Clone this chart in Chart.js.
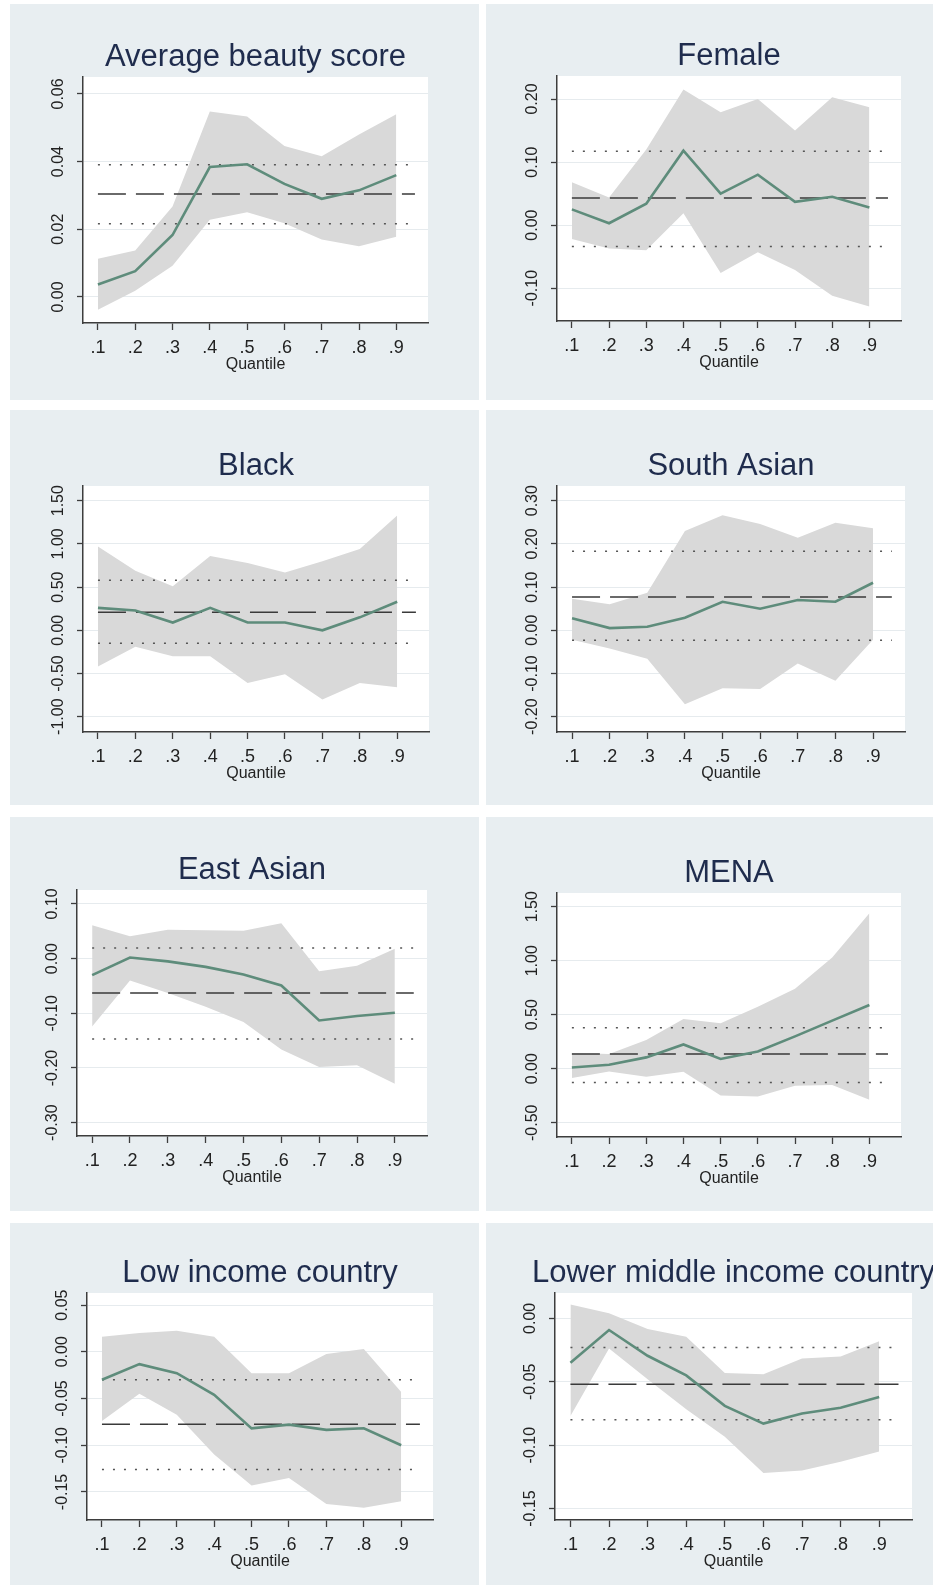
<!DOCTYPE html>
<html lang="en">
<head>
<meta charset="utf-8">
<title>Quantile regression estimates</title>
<script src="https://cdn.jsdelivr.net/npm/chart.js@4.4.1/dist/chart.umd.min.js"></script>
<style>
  html, body { margin: 0; padding: 0; background: #ffffff; }
  body { position: relative; width: 933px; height: 1585px; overflow: hidden; }
  .painel { position: absolute; background: #e8eef1; overflow: hidden; }
  .painel canvas { position: absolute; left: 0; top: 0; }
</style>
</head>
<body>
<script>
//Quantis estimados (eixo x) e extensão das linhas de referência
const quantis = [0.1, 0.2, 0.3, 0.4, 0.5, 0.6, 0.7, 0.8, 0.9];
const extensaoRef = [0.1, 0.95];

//Average beauty score
const belezaEst = [0.0037, 0.0076, 0.0183, 0.0384, 0.0392, 0.0334, 0.029, 0.0315, 0.036];
const belezaSup = [0.0113, 0.0137, 0.0267, 0.0548, 0.0533, 0.0446, 0.0416, 0.048, 0.054];
const belezaInf = [-0.0038, 0.0018, 0.0092, 0.0228, 0.025, 0.0218, 0.017, 0.015, 0.0178];
const belezaMqo = [0.0304, 0.0391, 0.0216];
const belezaTicks = [0, 0.02, 0.04, 0.06];

//Female
const femEst = [0.025, 0.003, 0.034, 0.118, 0.05, 0.08, 0.037, 0.045, 0.028];
const femSup = [0.068, 0.044, 0.12, 0.215, 0.179, 0.2, 0.15, 0.203, 0.187];
const femInf = [-0.022, -0.037, -0.04, 0.019, -0.076, -0.043, -0.071, -0.112, -0.129];
const femMqo = [0.043, 0.117, -0.034];
const femTicks = [-0.1, 0, 0.1, 0.2];

//Black
const negroEst = [0.26, 0.23, 0.09, 0.26, 0.09, 0.09, 0.0, 0.15, 0.33];
const negroSup = [0.97, 0.69, 0.51, 0.86, 0.78, 0.67, 0.8, 0.94, 1.33];
const negroInf = [-0.42, -0.19, -0.3, -0.3, -0.61, -0.51, -0.8, -0.61, -0.66];
const negroMqo = [0.21, 0.58, -0.15];
const negroTicks = [-1, -0.5, 0, 0.5, 1, 1.5];

//South Asian
const sulEst = [0.028, 0.005, 0.008, 0.029, 0.066, 0.05, 0.07, 0.066, 0.11];
const sulSup = [0.073, 0.06, 0.087, 0.23, 0.266, 0.246, 0.214, 0.249, 0.236];
const sulInf = [-0.022, -0.042, -0.066, -0.171, -0.134, -0.136, -0.077, -0.117, -0.022];
const sulMqo = [0.077, 0.183, -0.023];
const sulTicks = [-0.2, -0.1, 0, 0.1, 0.2, 0.3];

//East Asian
const lesteEst = [-0.03, 0.002, -0.005, -0.015, -0.029, -0.049, -0.113, -0.105, -0.099];
const lesteSup = [0.061, 0.041, 0.053, 0.052, 0.051, 0.065, -0.023, -0.013, 0.018];
const lesteInf = [-0.124, -0.04, -0.063, -0.088, -0.116, -0.166, -0.198, -0.195, -0.229];
const lesteMqo = [-0.063, 0.0195, -0.147];
const lesteTicks = [-0.3, -0.2, -0.1, 0, 0.1];

//MENA
const menaEst = [0.012, 0.037, 0.105, 0.225, 0.09, 0.16, 0.3, 0.445, 0.59];
const menaSup = [0.145, 0.136, 0.265, 0.46, 0.42, 0.574, 0.74, 1.03, 1.44];
const menaInf = [-0.086, -0.025, -0.074, -0.028, -0.247, -0.256, -0.157, -0.151, -0.287];
const menaMqo = [0.136, 0.38, -0.127];
const menaTicks = [-0.5, 0, 0.5, 1, 1.5];

//Low income country
const baixaEst = [-0.03, -0.0132, -0.0229, -0.046, -0.082, -0.078, -0.0836, -0.0818, -0.1];
const baixaSup = [0.016, 0.02, 0.0225, 0.016, -0.0229, -0.0229, -0.0025, 0.003, -0.043];
const baixaInf = [-0.074, -0.045, -0.0675, -0.11, -0.143, -0.135, -0.163, -0.167, -0.16];
const baixaMqo = [-0.0775, -0.03, -0.126];
const baixaTicks = [-0.15, -0.1, -0.05, 0, 0.05];

//Lower middle income country
const mediaEst = [-0.035, -0.0092, -0.0295, -0.045, -0.069, -0.083, -0.075, -0.0705, -0.062];
const mediaSup = [0.011, 0.004, -0.0084, -0.0145, -0.043, -0.044, -0.0316, -0.03, -0.018];
const mediaInf = [-0.077, -0.0237, -0.048, -0.0716, -0.0934, -0.122, -0.12, -0.113, -0.105];
const mediaMqo = [-0.052, -0.023, -0.08];
const mediaTicks = [-0.15, -0.1, -0.05, 0];

//Painéis: título, séries e faixa do eixo y
const paineis = [
    {titulo: 'Average beauty score', est: belezaEst, sup: belezaSup, inf: belezaInf, mqo: belezaMqo, ticks: belezaTicks, eixo: [-0.0077, 0.065]},
    {titulo: 'Female', est: femEst, sup: femSup, inf: femInf, mqo: femMqo, ticks: femTicks, eixo: [-0.152, 0.2365]},
    {titulo: 'Black', est: negroEst, sup: negroSup, inf: negroInf, mqo: negroMqo, ticks: negroTicks, eixo: [-1.177, 1.67]},
    {titulo: 'South Asian', est: sulEst, sup: sulSup, inf: sulInf, mqo: sulMqo, ticks: sulTicks, eixo: [-0.2355, 0.334]},
    {titulo: 'East Asian', est: lesteEst, sup: lesteSup, inf: lesteInf, mqo: lesteMqo, ticks: lesteTicks, eixo: [-0.3244, 0.1256]},
    {titulo: 'MENA', est: menaEst, sup: menaSup, inf: menaInf, mqo: menaMqo, ticks: menaTicks, eixo: [-0.632, 1.627]},
    {titulo: 'Low income country', est: baixaEst, sup: baixaSup, inf: baixaInf, mqo: baixaMqo, ticks: baixaTicks, eixo: [-0.18, 0.0629]},
    {titulo: 'Lower middle income country', est: mediaEst, sup: mediaSup, inf: mediaInf, mqo: mediaMqo, ticks: mediaTicks, eixo: [-0.159, 0.02]}
];

//Posição de cada painel na página e da área de plotagem (esq, topo, dir, base)
const caixas = [
    {x: 10, y: 4, w: 469, h: 396, area: [83, 77, 428, 323]},
    {x: 486, y: 4, w: 447, h: 396, area: [557, 76, 901, 321]},
    {x: 10, y: 410, w: 469, h: 395, area: [83, 486, 429, 732]},
    {x: 486, y: 410, w: 447, h: 395, area: [557, 486, 905, 732]},
    {x: 10, y: 817, w: 469, h: 394, area: [77, 890, 427, 1136]},
    {x: 486, y: 817, w: 447, h: 394, area: [557, 893, 901, 1137]},
    {x: 10, y: 1223, w: 469, h: 362, area: [87, 1293, 433, 1520]},
    {x: 486, y: 1223, w: 447, h: 362, area: [555, 1293, 912, 1520]}
];

//Cores
const corLinha = '#5e8c7b';
const corBanda = '#d9d9d9';
const corEixo = '#3d3d3d';
const corGrade = '#e6ebee';
const corTexto = '#222222';
const corTitulo = '#1f2c4d';
const fonte = '"Liberation Sans", Arial, sans-serif';

Chart.defaults.font.family = fonte;

//Fundo branco da área de plotagem
const fundoBranco = {
    id: 'fundoBranco',
    beforeDraw(chart) {
        const a = chart.chartArea;
        chart.ctx.save();
        chart.ctx.fillStyle = '#ffffff';
        chart.ctx.fillRect(a.left, a.top, a.right - a.left, a.bottom - a.top);
        chart.ctx.restore();
    }
};

//Rótulos do eixo y girados 90 graus
const rotulosY = {
    id: 'rotulosY',
    afterDraw(chart) {
        const s = chart.scales.y;
        const ctx = chart.ctx;
        ctx.save();
        ctx.font = '16px ' + fonte;
        ctx.fillStyle = corTexto;
        ctx.textAlign = 'center';
        ctx.textBaseline = 'middle';
        s.ticks.forEach(t => {
            ctx.save();
            ctx.translate(chart.chartArea.left - 24, s.getPixelForValue(t.value));
            ctx.rotate(-Math.PI / 2);
            ctx.fillText(t.label, 0, 0);
            ctx.restore();
        });
        ctx.restore();
    }
};

//Título centrado sobre a área de plotagem
const tituloPainel = {
    id: 'tituloPainel',
    afterDraw(chart, args, opts) {
        const a = chart.chartArea;
        const ctx = chart.ctx;
        ctx.save();
        ctx.font = '31px ' + fonte;
        ctx.fillStyle = corTitulo;
        ctx.textAlign = 'center';
        ctx.textBaseline = 'alphabetic';
        ctx.fillText(opts.text, (a.left + a.right) / 2, a.top - 11);
        ctx.restore();
    }
};

function criarPainel(p, c) {
    let div = document.createElement('div');
    div.className = 'painel';
    div.style.left = c.x + 'px';
    div.style.top = c.y + 'px';
    div.style.width = c.w + 'px';
    div.style.height = c.h + 'px';
    let canvas = document.createElement('canvas');
    canvas.width = c.w;
    canvas.height = c.h;
    div.appendChild(canvas);
    document.body.appendChild(div);

    //Área de plotagem em coordenadas do canvas
    let esq = c.area[0] - c.x;
    let topo = c.area[1] - c.y;
    let dir = c.area[2] - c.x;
    let base = c.area[3] - c.y;
    let alturaX = 60;

    let pontos = vals => quantis.map((q, i) => ({x: q, y: vals[i]}));
    let horizontal = v => extensaoRef.map(x => ({x: x, y: v}));
    let semBorda = 'rgba(0,0,0,0)';

    new Chart(canvas, {
        type: 'line',
        data: {
            datasets: [
                {data: pontos(p.sup), borderColor: semBorda, borderWidth: 1, pointRadius: 0, fill: false, order: 3},
                {data: pontos(p.inf), borderColor: semBorda, borderWidth: 1, pointRadius: 0, fill: '-1', backgroundColor: corBanda, order: 3},
                {data: horizontal(p.mqo[1]), borderColor: '#555555', borderWidth: 1.5, borderDash: [2, 9], pointRadius: 0, order: 2},
                {data: horizontal(p.mqo[2]), borderColor: '#555555', borderWidth: 1.5, borderDash: [2, 9], pointRadius: 0, order: 2},
                {data: horizontal(p.mqo[0]), borderColor: '#3a3a3a', borderWidth: 1.5, borderDash: [28, 10], pointRadius: 0, order: 1},
                {data: pontos(p.est), borderColor: corLinha, borderWidth: 2.6, pointRadius: 0, order: 0}
            ]
        },
        options: {
            responsive: false,
            animation: false,
            events: [],
            layout: {padding: {left: 0, top: topo, right: c.w - dir, bottom: c.h - base - alturaX}},
            plugins: {
                legend: {display: false},
                tooltip: {enabled: false},
                tituloPainel: {text: p.titulo}
            },
            scales: {
                x: {
                    type: 'linear',
                    min: 0.06,
                    max: 0.985,
                    afterFit: s => { s.height = alturaX; },
                    afterBuildTicks: s => { s.ticks = quantis.map(v => ({value: v})); },
                    grid: {drawOnChartArea: false, drawTicks: true, tickLength: 7, tickColor: corEixo, tickWidth: 1.3},
                    border: {display: true, color: corEixo, width: 1.5},
                    ticks: {padding: 7, autoSkip: false, maxRotation: 0, font: {size: 18}, color: corTexto,
                        callback: v => String(v).replace(/^0/, '')},
                    title: {display: true, text: 'Quantile', font: {size: 16}, color: corTexto, padding: {top: 0, bottom: 9}}
                },
                y: {
                    type: 'linear',
                    min: p.eixo[0],
                    max: p.eixo[1],
                    afterFit: s => { s.width = esq; },
                    afterBuildTicks: s => { s.ticks = p.ticks.map(v => ({value: v})); },
                    grid: {color: corGrade, lineWidth: 1, drawTicks: true, tickLength: 6, tickColor: corEixo, tickWidth: 1.3},
                    border: {display: true, color: corEixo, width: 1.5},
                    ticks: {display: false, callback: v => v.toFixed(2)}
                }
            }
        },
        plugins: [fundoBranco, rotulosY, tituloPainel]
    });
}

//Desenha os oito painéis
for (let i = 0; i < paineis.length; i++) {
    criarPainel(paineis[i], caixas[i]);
}
</script>
</body>
</html>
